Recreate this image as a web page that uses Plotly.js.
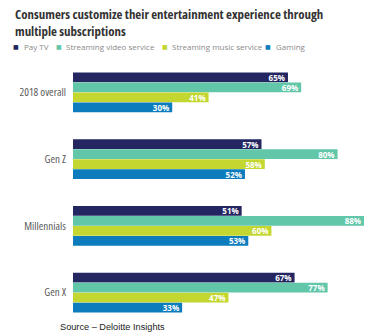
<!DOCTYPE html>
<html>
<head>
<meta charset="utf-8">
<script src="https://cdn.plot.ly/plotly-3.0.1.min.js"></script>
<style>
html,body{margin:0;padding:0;background:#fff;}
#chart{width:382px;height:334px;}
#chart .ytick text {font-stretch: condensed !important;}
#chart .annotation[data-index="0"] text {font-stretch: condensed !important;}
</style>
</head>
<body>
<div id="chart"></div>
<script>
const categories = ["2018 overall", "Gen Z", "Millennials", "Gen X"];
const seriesNames = ["Pay TV", "Streaming video service", "Streaming music service", "Gaming"];
const payTV = [65, 57, 51, 67];
const streamingVideo = [69, 80, 88, 77];
const streamingMusic = [41, 58, 60, 47];
const gaming = [30, 52, 53, 33];
const seriesColors = ["#232660", "#62c6a9", "#c4d730", "#0d7cbd"];
const titleText = "Consumers customize their entertainment experience through<br>multiple subscriptions";
const sourceText = "Source \u2013 Deloitte Insights";

const W = 382, H = 334;
const M = {l: 73, r: 0, t: 59, b: 8};
const PW = W - M.l - M.r, PH = H - M.t - M.b;
const px2x = px => (px - M.l) / PW;
const px2y = py => (H - M.b - py) / PH;

const openSans = "Open Sans, sans-serif";
const allSeries = [payTV, streamingVideo, streamingMusic, gaming];

const traces = allSeries.map((vals, i) => ({
  type: "bar",
  orientation: "h",
  name: seriesNames[i],
  y: categories,
  x: vals,
  marker: {color: seriesColors[i]},
  texttemplate: "%{x}%",
  textposition: "inside",
  insidetextanchor: "end",
  textangle: 0,
  constraintext: "none",
  textfont: {family: openSans, size: 8, color: "#ffffff", weight: "bold"},
  hoverinfo: "skip"
}));

const legendMarkerPx = [16, 59, 165, 268];
const legendTextPx = [22, 64, 170, 274];
const annotations = [];
annotations.push({xref: "paper", yref: "paper", x: px2x(13), y: px2y(3), text: titleText,
  showarrow: false, xanchor: "left", yanchor: "top", align: "left",
  font: {family: openSans, size: 12.9, color: "#333", weight: "bold"}});
seriesNames.forEach((n, i) => {
  annotations.push({xref: "paper", yref: "paper", x: px2x(legendMarkerPx[i]), y: px2y(47), text: "\u25A0",
    showarrow: false, xanchor: "center", yanchor: "middle", font: {size: 6, color: seriesColors[i], family: "DejaVu Sans"}});
  annotations.push({xref: "paper", yref: "paper", x: px2x(legendTextPx[i]), y: px2y(47), text: n,
    showarrow: false, xanchor: "left", yanchor: "middle", font: {size: 8, color: "#8a8a8a", family: openSans}});
});
annotations.push({xref: "paper", yref: "paper", x: px2x(58), y: px2y(327), text: sourceText,
  showarrow: false, xanchor: "left", yanchor: "middle", font: {size: 9.2, color: "#222", family: "Liberation Sans, Arial, sans-serif"}});

const layout = {
  width: W, height: H,
  margin: M,
  paper_bgcolor: "#fff", plot_bgcolor: "#fff",
  showlegend: false,
  barmode: "group",
  bargap: 0.4,
  bargroupgap: 0.04,
  xaxis: {range: [0, PW / 3.307], showgrid: false, zeroline: false, showticklabels: false, ticks: "", showline: false, fixedrange: true},
  yaxis: {autorange: "reversed", showgrid: false, zeroline: false, showline: false, ticks: "",
    ticklabelstandoff: 6,
    tickfont: {family: openSans, size: 11, color: "#5a5a5a", weight: 400}, fixedrange: true},
  annotations: annotations
};

Plotly.newPlot("chart", traces, layout, {displayModeBar: false, staticPlot: true});
</script>
</body>
</html>
